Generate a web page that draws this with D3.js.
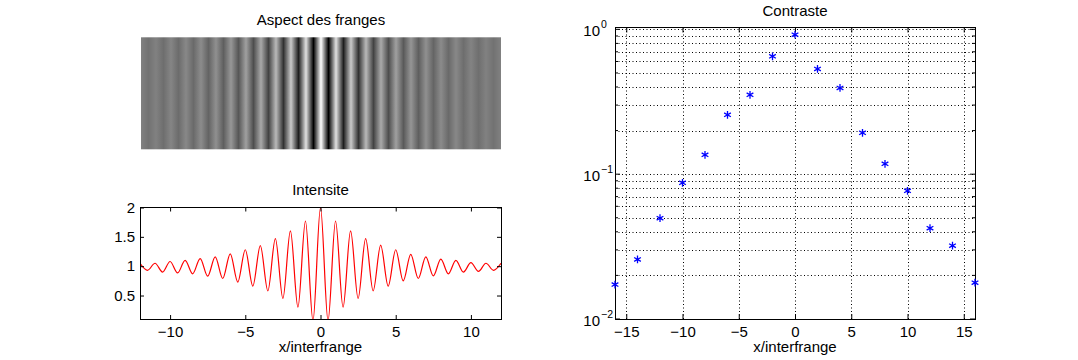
<!DOCTYPE html>
<html><head><meta charset="utf-8">
<script src="https://cdn.jsdelivr.net/npm/d3@7"></script>
<style>
body{margin:0;background:#fff;}
svg text{font-family:"Liberation Sans",Arial,sans-serif;fill:#000;}
</style></head>
<body><svg id="c" width="1078" height="360"></svg>
<script>
// ---- Data ----
const peakX   = [-12,-11,-10,-9,-8,-7,-6,-5,-4,-3,-2,-1,0,1,2,3,4,5,6,7,8,9,10,11,12];
const peakI   = [1.05,1.05,1.08,1.10,1.13,1.16,1.21,1.28,1.35,1.47,1.60,1.77,2.00,1.77,1.60,1.47,1.36,1.28,1.20,1.16,1.12,1.10,1.06,1.05,1.05];
const troughX = [-11.5,-10.5,-9.5,-8.5,-7.5,-6.5,-5.5,-4.5,-3.5,-2.5,-1.5,-0.5,0.5,1.5,2.5,3.5,4.5,5.5,6.5,7.5,8.5,9.5,10.5,11.5];
const troughI = [0.93,0.90,0.885,0.87,0.83,0.79,0.73,0.66,0.58,0.45,0.30,0.07,0.07,0.30,0.45,0.58,0.66,0.75,0.79,0.835,0.87,0.90,0.91,0.93];

const contrastX = [-16,-14,-12,-10,-8,-6,-4,-2,0,2,4,6,8,10,12,14,16];
const contrastV = [0.0173,0.0258,0.0497,0.0872,0.136,0.257,0.353,0.651,0.919,0.533,0.394,0.193,0.118,0.0768,0.0424,0.0321,0.0178];

const intensTicksX = [-10,-5,0,5,10];
const intensTicksY = [0.5,1,1.5,2];
const contrTicksX  = [-15,-10,-5,0,5,10,15];
const contrTicksY  = [0.01,0.1,1];
const contrTickExp = ["\u22122","\u22121","0"];

const titles = {fringe:"Aspect des franges", intens:"Intensite", contr:"Contraste", xlab:"x/interfrange"};

// ---- Build ----
const svg = d3.select("#c");
const FS = 15;
const intens = peakX.map((x,i)=>({x,v:peakI[i]}))
  .concat(troughX.map((x,i)=>({x,v:troughI[i]})))
  .sort((a,b)=>a.x-b.x);

// Fringe image (top-left)
const fx = d3.scaleLinear().domain([-12,12]).range([141,501]);
const gray = d3.scaleLinear().domain([d3.min(intens,d=>d.v), d3.max(intens,d=>d.v)]).range(["#000","#fff"]);
const defs = svg.append("defs");
const grad = defs.append("linearGradient").attr("id","fr")
  .attr("gradientUnits","userSpaceOnUse").attr("x1",fx(-12)).attr("x2",fx(12)).attr("y1",0).attr("y2",0);
grad.selectAll("stop").data(intens).join("stop")
  .attr("offset",d=>(fx(d.x)-fx(-12))/(fx(12)-fx(-12)))
  .attr("stop-color",d=>gray(d.v));
svg.append("rect").attr("x",fx(-12)).attr("y",37.3).attr("width",fx(12)-fx(-12)).attr("height",112)
  .attr("fill","url(#fr)");
svg.append("text").attr("x",321).attr("y",24.5).attr("text-anchor","middle").attr("font-size",FS).text(titles.fringe);

// Intensity plot (bottom-left)
const ix = d3.scaleLinear().domain([-12,12]).range([140,501]);
const iy = d3.scaleLinear().domain([0.1,2]).range([319,207.5]);
defs.append("clipPath").attr("id","ic").append("rect")
  .attr("x",ix(-12)).attr("y",iy(2)-2).attr("width",ix(12)-ix(-12)).attr("height",iy(0.1)-iy(2)+2);
const gI = svg.append("g");
gI.append("path").datum(intens).attr("clip-path","url(#ic)")
  .attr("fill","none").attr("stroke","#ff0000").attr("stroke-width",1.2)
  .attr("d",d3.line().x(d=>ix(d.x)).y(d=>iy(d.v)).curve(d3.curveMonotoneX));
function boxAxes(g,xs,ys,tx,tl){
  const [x0,x1]=xs.range(), [y0,y1]=ys.range();
  g.append("g").attr("transform",`translate(0,${y0})`).call(d3.axisBottom(xs).tickValues(tx).tickSizeInner(-tl).tickSizeOuter(0).tickFormat(d=>d3.format("")(d).replace("-","\u2212")))
    .call(a=>{a.select(".domain").remove();a.selectAll("text").attr("font-size",FS).attr("dy",0).attr("y",17.5).attr("font-family",null);a.selectAll("line").attr("stroke","#000");});
  g.append("g").attr("transform",`translate(0,${y1})`).call(d3.axisTop(xs).tickValues(tx).tickSizeInner(-tl).tickSizeOuter(0).tickFormat(""))
    .call(a=>{a.select(".domain").remove();a.selectAll("line").attr("stroke","#000");});
  g.append("rect").attr("x",x0).attr("y",y1).attr("width",x1-x0).attr("height",y0-y1)
    .attr("fill","none").attr("stroke","#000").attr("stroke-width",1).attr("shape-rendering","crispEdges");
}
boxAxes(gI,ix,iy,intensTicksX,4);
gI.append("g").attr("transform",`translate(${ix(-12)},0)`).call(d3.axisLeft(iy).tickValues(intensTicksY).tickSizeInner(-4).tickSizeOuter(0).tickPadding(5).tickFormat(d3.format("")))
  .call(a=>{a.select(".domain").remove();a.selectAll("text").attr("font-size",FS).attr("font-family",null);a.selectAll("line").attr("stroke","#000");});
gI.append("g").attr("transform",`translate(${ix(12)},0)`).call(d3.axisRight(iy).tickValues(intensTicksY).tickSizeInner(-4).tickSizeOuter(0).tickFormat(""))
  .call(a=>{a.select(".domain").remove();a.selectAll("line").attr("stroke","#000");});
svg.append("text").attr("x",320.5).attr("y",194.5).attr("text-anchor","middle").attr("font-size",FS).text(titles.intens);
svg.append("text").attr("x",320.5).attr("y",352).attr("text-anchor","middle").attr("font-size",FS).text(titles.xlab);

// Contrast plot (right)
const cx = d3.scaleLinear().domain([-16,16]).range([615,975]);
const cy = d3.scaleLog().domain([0.01,1.03]).range([319,27.5]);
const gC = svg.append("g");
const minorY = [];
[0.01,0.1].forEach(dec=>{[1,2,3,4,5,6,7,8,9].forEach(m=>minorY.push(dec*m));});
minorY.push(1);
gC.append("g").selectAll("line").data(minorY.filter(v=>v>0.01)).join("line")
  .attr("x1",cx(-16)).attr("x2",cx(16)).attr("y1",d=>Math.round(cy(d))+0.5).attr("y2",d=>Math.round(cy(d))+0.5)
  .attr("stroke","#000").attr("stroke-width",1).attr("stroke-dasharray","1,2.5");
gC.append("g").selectAll("line").data(contrTicksX).join("line")
  .attr("y1",cy(0.01)).attr("y2",cy(1.03)).attr("x1",d=>Math.round(cx(d))+0.5).attr("x2",d=>Math.round(cx(d))+0.5)
  .attr("stroke","#000").attr("stroke-width",1).attr("stroke-dasharray","1,2.5");
boxAxes(gC,cx,cy,contrTicksX,5);
gC.append("g").selectAll("line").data(minorY).join("line")
  .attr("x1",cx(-16)).attr("x2",d=>cx(-16)+([0.01,0.1,1].includes(d)?5:3))
  .attr("y1",d=>cy(d)).attr("y2",d=>cy(d)).attr("stroke","#000");
gC.append("g").selectAll("line").data(minorY).join("line")
  .attr("x1",cx(16)).attr("x2",d=>cx(16)-([0.01,0.1,1].includes(d)?5:3))
  .attr("y1",d=>cy(d)).attr("y2",d=>cy(d)).attr("stroke","#000");
const yl = gC.append("g").selectAll("g").data(contrTicksY).join("g");
yl.append("text").attr("x",600).attr("y",d=>cy(d)+7).attr("text-anchor","end").attr("font-size",FS).text("10");
yl.append("text").attr("x",601).attr("y",d=>cy(d)-1.5).attr("text-anchor","start").attr("font-size",10.5).text((d,i)=>contrTickExp[i]);
const sym = d3.symbolAsterisk || {draw(ctx,size){const r=Math.sqrt(size)/2;ctx.moveTo(-r,0);ctx.lineTo(r,0);ctx.moveTo(0,-r);ctx.lineTo(0,r);const q=r*0.7071;ctx.moveTo(-q,-q);ctx.lineTo(q,q);ctx.moveTo(-q,q);ctx.lineTo(q,-q);}};
gC.append("g").selectAll("path").data(contrastX.map((x,i)=>({x,v:contrastV[i]}))).join("path")
  .attr("transform",d=>`translate(${cx(d.x)},${cy(d.v)})`)
  .attr("d",d3.symbol().type(sym).size(42))
  .attr("fill","none").attr("stroke","#0000ff").attr("stroke-width",1.3);
svg.append("text").attr("x",795).attr("y",15.5).attr("text-anchor","middle").attr("font-size",FS).text(titles.contr);
svg.append("text").attr("x",795).attr("y",352).attr("text-anchor","middle").attr("font-size",FS).text(titles.xlab);
</script></body></html>
